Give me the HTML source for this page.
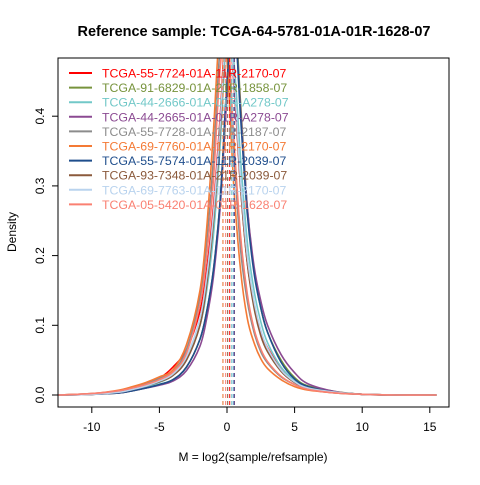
<!DOCTYPE html>
<html><head><meta charset="utf-8"><style>body{margin:0;background:#fff}svg{font-family:"Liberation Sans",sans-serif}</style></head>
<body>
<svg id="c" width="480" height="480"></svg>
<script>
const xGrid=[-12.5,-10,-8,-7,-6,-5,-4,-3,-2,-1.5,-1,-0.5,0,0.5,1,1.5,2,2.5,3,4,5,6,8,10,12.5,15.5];
const names=["TCGA-55-7724-01A-11R-2170-07","TCGA-91-6829-01A-21R-1858-07","TCGA-44-2666-01A-01R-A278-07","TCGA-44-2665-01A-01R-A278-07","TCGA-55-7728-01A-11R-2187-07","TCGA-69-7760-01A-11R-2170-07","TCGA-55-7574-01A-11R-2039-07","TCGA-93-7348-01A-21R-2039-07","TCGA-69-7763-01A-11R-2170-07","TCGA-05-5420-01A-01R-1628-07"];
const colors=["#FF0000","#77933C","#72C8C8","#8B4A92","#8C8C8C","#F47A35","#1F4E8C","#8B5A3C","#B9D3EE","#FA8072"];
const s0=[0,0.001,0.005,0.010,0.016,0.024,0.040,0.065,0.12,0.18,0.27,0.40,0.55,0.45,0.30,0.19,0.13,0.09,0.068,0.038,0.02,0.011,0.004,0.001,0,0];
const s1=[0,0.001,0.003,0.006,0.010,0.015,0.022,0.040,0.08,0.12,0.18,0.28,0.44,0.56,0.42,0.27,0.18,0.125,0.09,0.05,0.025,0.013,0.005,0.001,0,0];
const s2=[0,0.001,0.004,0.008,0.012,0.018,0.028,0.050,0.10,0.15,0.23,0.36,0.52,0.48,0.34,0.22,0.15,0.105,0.075,0.04,0.021,0.011,0.004,0.001,0,0];
const s3=[0,0.001,0.003,0.006,0.010,0.014,0.020,0.035,0.07,0.11,0.17,0.27,0.43,0.54,0.41,0.27,0.185,0.135,0.10,0.058,0.032,0.016,0.005,0.001,0,0];
const s4=[0,0.002,0.006,0.011,0.016,0.024,0.034,0.065,0.14,0.22,0.34,0.50,0.52,0.35,0.21,0.135,0.09,0.062,0.046,0.026,0.015,0.008,0.003,0.001,0,0];
const s5=[0,0.002,0.007,0.012,0.018,0.026,0.036,0.072,0.15,0.24,0.38,0.53,0.48,0.30,0.18,0.11,0.075,0.052,0.038,0.022,0.012,0.007,0.003,0.001,0,0];
const s6=[0,0.001,0.003,0.006,0.010,0.015,0.022,0.040,0.08,0.12,0.18,0.28,0.45,0.55,0.40,0.26,0.175,0.125,0.09,0.047,0.023,0.012,0.004,0.001,0,0];
const s7=[0,0.001,0.004,0.008,0.013,0.019,0.028,0.050,0.10,0.16,0.25,0.38,0.54,0.46,0.30,0.19,0.125,0.085,0.062,0.034,0.018,0.01,0.004,0.001,0,0];
const s8=[0,0.001,0.004,0.008,0.013,0.020,0.030,0.055,0.11,0.17,0.26,0.39,0.54,0.46,0.31,0.20,0.135,0.093,0.067,0.036,0.019,0.01,0.004,0.001,0,0];
const s9=[0,0.002,0.006,0.010,0.015,0.022,0.033,0.060,0.13,0.20,0.31,0.47,0.53,0.37,0.23,0.145,0.095,0.066,0.048,0.027,0.015,0.008,0.003,0.001,0,0];
const series=[s0,s1,s2,s3,s4,s5,s6,s7,s8,s9];
const vlines=[0.2,0.55,0.35,0.55,-0.3,-0.3,0.5,0.05,0.45,-0.1];
const xTicks=[-10,-5,0,5,10,15];
const yTicks=[0,0.1,0.2,0.3,0.4];
const yTickLabels=["0.0","0.1","0.2","0.3","0.4"];

const L=58,R=449,T=58,B=407;
const xs=v=>227+v*13.52;
const ys=v=>395-v*697;
const svg=document.getElementById('c');
const NS="http://www.w3.org/2000/svg";
function mk(tag,attrs,parent){const e=document.createElementNS(NS,tag);for(const k in attrs)e.setAttribute(k,attrs[k]);(parent||svg).appendChild(e);return e;}
function smooth(pts){let d='M'+pts[0][0]+','+pts[0][1];for(let i=0;i<pts.length-1;i++){const p0=pts[Math.max(0,i-1)],p1=pts[i],p2=pts[i+1],p3=pts[Math.min(pts.length-1,i+2)];
const c1x=p1[0]+(p2[0]-p0[0])/6,c1y=p1[1]+(p2[1]-p0[1])/6,c2x=p2[0]-(p3[0]-p1[0])/6,c2y=p2[1]-(p3[1]-p1[1])/6;
d+=` C${c1x},${c1y} ${c2x},${c2y} ${p2[0]},${p2[1]}`;}return d;}
const defs=mk('defs',{});const cp=mk('clipPath',{id:'pc'},defs);mk('rect',{x:L,y:T,width:R-L,height:B-T},cp);
const t=mk('text',{x:254,y:36,'text-anchor':'middle','font-size':14.5,'font-weight':'bold'});t.textContent="Reference sample: TCGA-64-5781-01A-01R-1628-07";


const g=mk('g',{'clip-path':'url(#pc)'});


series.forEach((s,i)=>{
  const p=mk('path',{d:smooth(s.map((v,j)=>[xs(xGrid[j]),ys(v)])),fill:'none',stroke:colors[i],'stroke-width':1.6},g);
  
  
});
vlines.forEach((v,i)=>{
  const l=mk('line',{x1:xs(v),x2:xs(v),y1:T,y2:B,stroke:colors[i],'stroke-width':1,'stroke-dasharray':'4,3'},g);
  
  
});
const box=mk('rect',{x:L,y:T,width:R-L,height:B-T,fill:'none',stroke:'#000'});


xTicks.forEach(v=>{
  mk('line',{x1:xs(v),x2:xs(v),y1:B,y2:B+6,stroke:'#000'});
  const tx=mk('text',{x:xs(v),y:431,'text-anchor':'middle','font-size':12});tx.textContent=v;
  
  
});
yTicks.forEach((v,i)=>{
  mk('line',{x1:L-6,x2:L,y1:ys(v),y2:ys(v),stroke:'#000'});
  const tx=mk('text',{x:44,y:ys(v),'text-anchor':'middle','font-size':12,transform:`rotate(-90 44 ${ys(v)})`});tx.textContent=yTickLabels[i];
  
  
});
const xl=mk('text',{x:253,y:461,'text-anchor':'middle','font-size':12});xl.textContent="M = log2(sample/refsample)";


const yl=mk('text',{x:16,y:232,'text-anchor':'middle','font-size':12,transform:'rotate(-90 16 232)'});yl.textContent="Density";


names.forEach((n,i)=>{
  const y=73+i*14.6;
  const lg=mk('g',{});
  
  
  mk('line',{x1:69,x2:92,y1:y,y2:y,stroke:colors[i],'stroke-width':2},lg);
  const tx=mk('text',{x:102,y:y+4.5,'font-size':12.3,fill:colors[i]},lg);tx.textContent=n;
});
</script>
</body></html>
